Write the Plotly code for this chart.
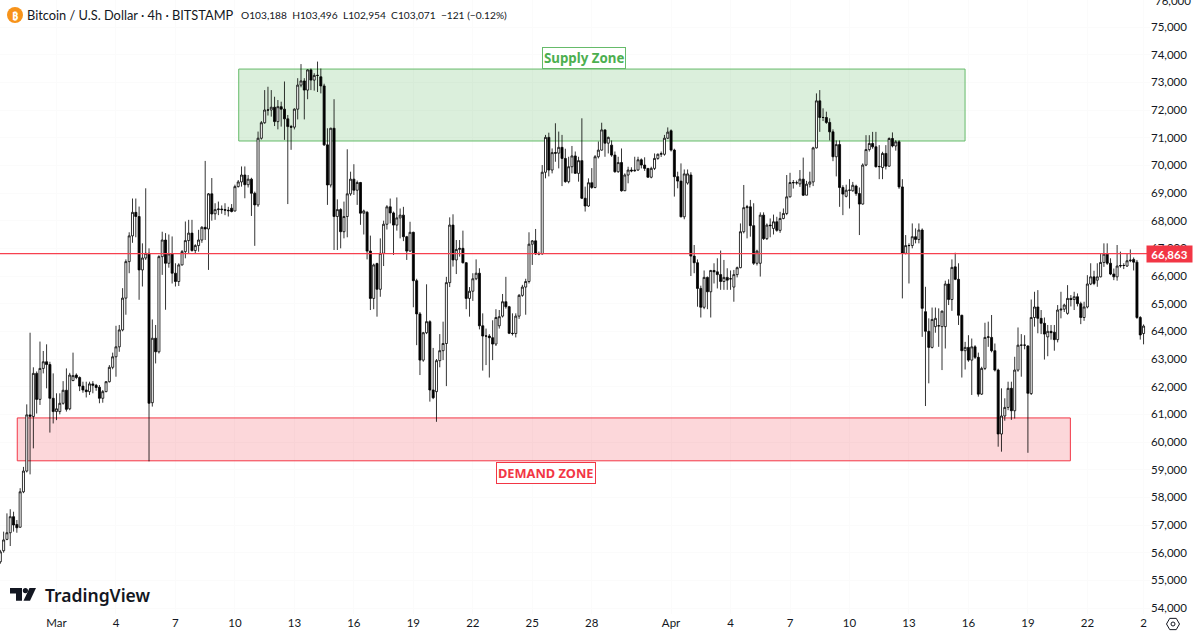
import math

import numpy as np
import pandas as pd
import plotly.graph_objects as go

WIDTH = 1200
HEIGHT = 635
PLOT_RIGHT = 1150
PLOT_BOTTOM = 614
FONT = 'Lato'
LABEL_FONT = 'Noto Sans'
TEXT_COLOR = '#131722'

# 4h candles, in thousands of USD, ten per row
opens = [
    55.67, 56.07, 56.48, 56.72, 57.3, 57.02, 56.92, 58.2, 58.95, 60.98,
    60.92, 62.48, 61.54, 62.66, 62.9, 62.8, 61.58, 61.1, 61.1, 61.4,
    61.87, 61.2, 62.22, 62.42, 62.33, 62.02, 61.88, 61.82, 62.1, 62.05,
    61.98, 61.58, 61.82, 62.18, 62.7, 63.08, 63.44, 64.05, 65.2, 66.52,
    67.45, 68.3, 68.15, 66.22, 66.65, 66.82, 61.42, 63.75, 63.26, 66.7,
    67.3, 66.46, 66.8, 66.1, 65.8, 66.4, 66.88, 67.28, 67.55, 66.92,
    67.1, 67.3, 67.76, 67.7, 68.97, 68.25, 68.4, 68.42, 68.4, 68.38,
    68.45, 68.35, 69.23, 69.4, 69.65, 69.3, 69.5, 68.99, 68.57, 70.98,
    71.54, 72.0, 72.0, 72.1, 71.58, 72.12, 72.03, 71.68, 71.4, 71.38,
    72.03, 72.9, 73.05, 72.72, 73.45, 73.08, 73.25, 73.2, 72.87, 70.74,
    69.29, 71.34, 68.15, 68.4, 67.6, 68.15, 68.97, 69.5, 69.1, 69.38,
    68.27, 68.3, 66.9, 65.19, 66.45, 65.52, 66.82, 67.87, 68.5, 68.28,
    67.84, 68.1, 68.2, 67.42, 66.9, 67.58, 65.83, 64.63, 62.96, 63.95,
    64.35, 61.88, 61.82, 62.94, 63.3, 63.56, 65.76, 67.84, 66.58, 66.96,
    67.0, 66.48, 65.19, 65.45, 65.9, 66.1, 64.2, 63.83, 63.83, 63.77,
    63.54, 64.2, 64.55, 65.07, 64.89, 63.93, 63.92, 64.55, 65.3, 65.6,
    65.8, 67.15, 67.27, 66.8, 66.8, 69.75, 71.01, 69.83, 70.46, 70.44,
    70.65, 70.25, 69.41, 69.95, 70.34, 69.71, 70.17, 68.81, 68.53, 69.37,
    69.2, 70.31, 70.55, 71.28, 70.8, 70.73, 70.37, 69.77, 70.1, 69.08,
    69.65, 69.83, 69.8, 69.83, 70.2, 70.01, 69.89, 69.57, 69.89, 70.25,
    70.4, 70.4, 70.98, 71.25, 70.55, 69.59, 69.43, 68.14, 69.36, 69.65,
    66.72, 66.48, 65.55, 64.87, 65.95, 65.43, 66.2, 66.15, 66.05, 65.8,
    65.95, 65.9, 65.6, 66.05, 66.3, 67.6, 68.47, 68.5, 67.82, 66.46,
    66.46, 68.2, 67.35, 67.84, 67.72, 67.96, 67.65, 68.08, 68.26, 68.86,
    69.38, 69.37, 69.33, 69.5, 68.92, 69.32, 69.4, 70.63, 72.33, 71.73,
    71.73, 71.55, 71.21, 70.31, 70.75, 69.2, 68.88, 69.1, 69.08, 69.25,
    68.98, 68.6, 70.01, 70.57, 70.79, 70.67, 69.95, 69.92, 70.43, 69.97,
    70.97, 70.7, 70.85, 69.22, 66.82, 67.1, 67.1, 67.42, 67.32, 67.66,
    64.71, 64.0, 63.42, 64.17, 64.2, 64.17, 64.17, 65.71, 65.15, 66.33,
    65.88, 64.58, 63.3, 63.42, 62.96, 63.44, 63.06, 61.73, 62.66, 63.78,
    63.78, 63.3, 62.6, 60.29, 60.94, 61.25, 61.94, 61.13, 62.6, 63.5,
    63.5, 63.47, 61.75, 64.5, 64.88, 64.47, 64.29, 63.8, 64.0, 63.97,
    63.7, 64.77, 64.8, 64.65, 65.19, 65.15, 65.25, 65.0, 64.5, 64.88,
    65.71, 65.97, 65.85, 65.97, 66.49, 66.79, 66.46, 66.07, 65.97, 66.36,
    66.38, 66.36, 66.55, 66.6, 66.5, 64.5, 63.92,
]
highs = [
    56.1, 56.76, 57.42, 57.57, 57.48, 57.18, 58.33, 59.1, 61.36, 63.95,
    62.7, 62.55, 63.63, 63.29, 63.53, 62.9, 62.48, 61.76, 61.76, 62.2,
    62.66, 62.5, 63.23, 62.48, 62.37, 62.18, 62.18, 62.18, 62.2, 62.1,
    62.06, 61.88, 62.2, 62.78, 63.23, 64.2, 64.23, 65.56, 66.6, 67.58,
    68.8, 68.8, 68.51, 67.18, 69.17, 67.0, 64.43, 64.23, 66.75, 67.6,
    67.55, 67.5, 67.43, 66.46, 66.46, 66.94, 67.97, 68.03, 68.03, 67.15,
    67.67, 67.8, 70.16, 69.0, 69.54, 68.63, 68.69, 68.55, 68.63, 68.5,
    68.6, 69.3, 69.47, 69.96, 69.96, 69.65, 69.55, 69.05, 71.22, 71.6,
    72.72, 72.84, 72.72, 72.48, 72.36, 72.3, 73.03, 71.82, 71.46, 72.06,
    73.15, 73.66, 73.15, 73.47, 73.5, 73.33, 73.75, 73.5, 72.95, 71.34,
    71.36, 72.39, 68.77, 68.45, 68.69, 70.58, 69.77, 70.04, 69.45, 69.4,
    68.4, 68.35, 67.46, 66.45, 66.48, 67.36, 68.0, 68.56, 68.8, 68.33,
    68.84, 68.44, 68.5, 67.45, 67.96, 67.6, 65.9, 64.7, 63.98, 65.7,
    64.4, 63.4, 63.0, 63.9, 64.35, 65.97, 68.12, 68.23, 67.3, 67.3,
    67.64, 66.5, 65.6, 66.1, 66.6, 66.28, 64.65, 64.1, 63.9, 64.4,
    64.8, 64.77, 65.35, 65.97, 64.92, 64.65, 64.65, 65.35, 65.68, 65.9,
    67.58, 67.3, 67.7, 66.88, 70.01, 71.1, 71.18, 70.61, 71.52, 71.22,
    71.1, 70.6, 70.31, 70.7, 70.5, 70.31, 71.7, 69.23, 69.53, 69.9,
    70.37, 70.86, 71.54, 71.3, 71.04, 70.9, 70.5, 70.31, 70.61, 69.71,
    69.95, 69.93, 70.31, 70.31, 70.25, 70.29, 69.9, 69.95, 70.43, 70.43,
    70.5, 71.1, 71.37, 71.3, 70.6, 69.77, 70.07, 69.85, 69.85, 69.75,
    67.12, 66.6, 65.65, 66.2, 65.98, 66.22, 66.46, 66.64, 66.92, 66.58,
    66.28, 66.2, 66.22, 66.34, 67.9, 69.29, 68.57, 68.75, 68.63, 66.95,
    68.3, 68.3, 67.9, 68.08, 68.22, 68.14, 68.32, 68.44, 69.65, 69.73,
    69.47, 69.45, 69.83, 70.28, 69.44, 69.77, 70.67, 72.6, 72.72, 72.06,
    71.94, 71.7, 71.3, 70.9, 70.9, 69.28, 69.3, 69.5, 69.4, 69.3,
    69.2, 70.07, 71.09, 71.09, 71.21, 71.21, 70.73, 70.49, 70.73, 71.01,
    71.19, 70.91, 70.91, 69.5, 67.48, 67.18, 67.9, 67.72, 67.9, 67.72,
    65.61, 64.47, 64.86, 64.86, 64.83, 64.75, 65.83, 65.88, 66.6, 66.84,
    66.46, 64.6, 63.62, 63.86, 63.74, 63.5, 63.23, 62.72, 64.31, 64.35,
    64.59, 63.56, 62.65, 61.94, 61.58, 62.18, 62.18, 63.08, 64.14, 63.9,
    63.86, 63.5, 65.15, 65.43, 65.49, 64.77, 64.5, 64.23, 64.23, 64.23,
    64.95, 65.43, 65.0, 65.67, 65.31, 65.43, 65.37, 65.07, 65.07, 66.03,
    66.46, 66.19, 66.46, 66.82, 67.18, 67.18, 66.64, 66.27, 67.12, 66.88,
    66.46, 66.82, 66.96, 66.67, 66.58, 64.55, 64.25,
]
lows = [
    55.6, 56.0, 56.45, 56.24, 56.76, 56.72, 56.9, 58.15, 58.9, 58.83,
    59.77, 61.03, 61.34, 62.48, 61.94, 60.34, 60.67, 60.79, 61.0, 61.35,
    61.1, 61.15, 62.2, 62.27, 61.84, 61.78, 61.61, 61.7, 61.76, 61.85,
    61.4, 61.42, 61.8, 62.15, 62.63, 62.36, 63.26, 64.0, 64.6, 66.1,
    67.2, 67.4, 65.14, 65.62, 66.58, 59.3, 61.28, 62.84, 63.2, 66.04,
    64.78, 66.3, 65.73, 65.62, 65.64, 66.38, 66.64, 66.82, 66.88, 66.8,
    66.88, 67.2, 67.3, 66.22, 68.0, 68.03, 68.2, 68.25, 68.2, 68.15,
    68.3, 68.33, 69.2, 69.23, 68.81, 69.2, 68.17, 67.09, 68.5, 70.93,
    71.5, 71.8, 71.76, 71.42, 71.3, 71.4, 70.92, 68.6, 70.56, 71.3,
    71.66, 72.82, 71.66, 72.39, 72.72, 72.7, 72.65, 72.6, 70.7, 68.57,
    69.2, 66.94, 66.94, 67.0, 67.36, 67.4, 68.9, 68.93, 68.57, 67.85,
    67.5, 66.6, 64.77, 64.8, 64.53, 65.25, 66.36, 67.68, 67.9, 66.76,
    67.64, 67.36, 67.26, 66.58, 66.88, 64.87, 63.5, 62.42, 62.9, 63.9,
    61.46, 61.55, 60.73, 62.7, 62.96, 62.02, 65.6, 66.34, 66.07, 66.7,
    66.45, 64.8, 64.53, 65.1, 65.85, 64.07, 62.58, 62.78, 62.33, 62.96,
    63.47, 64.1, 64.5, 64.82, 63.9, 63.85, 63.78, 64.45, 65.25, 64.6,
    65.73, 66.4, 66.76, 66.75, 66.77, 69.53, 69.6, 69.71, 70.13, 69.89,
    69.25, 69.37, 69.35, 69.71, 69.69, 69.41, 68.78, 68.33, 68.5, 69.15,
    69.17, 70.25, 70.53, 70.31, 70.43, 70.31, 69.73, 69.73, 69.05, 69.1,
    69.35, 69.75, 69.77, 69.8, 69.89, 69.8, 69.55, 69.53, 69.83, 70.2,
    70.3, 70.35, 70.95, 70.5, 68.87, 69.17, 68.12, 68.05, 69.3, 66.0,
    66.1, 64.89, 64.5, 64.8, 64.8, 64.5, 65.73, 65.55, 65.5, 65.5,
    65.5, 65.5, 65.07, 65.95, 66.28, 67.54, 67.36, 67.42, 66.4, 66.38,
    65.98, 67.3, 67.3, 67.4, 67.5, 67.6, 67.56, 68.05, 68.2, 68.84,
    69.16, 69.3, 69.22, 68.89, 68.92, 69.2, 69.25, 70.61, 71.21, 71.6,
    71.5, 70.9, 70.15, 69.6, 68.5, 68.2, 68.84, 68.44, 69.05, 68.9,
    67.48, 68.58, 69.97, 70.5, 70.6, 69.92, 69.5, 69.5, 69.85, 69.95,
    70.65, 70.53, 69.15, 65.19, 66.78, 65.73, 67.0, 67.18, 67.18, 63.8,
    61.3, 62.12, 63.38, 63.95, 63.44, 62.6, 63.38, 64.95, 64.74, 65.85,
    64.23, 62.33, 62.62, 62.9, 61.7, 63.0, 61.64, 61.7, 62.6, 63.44,
    63.24, 62.55, 59.83, 59.65, 60.77, 61.15, 60.8, 60.85, 62.54, 62.36,
    63.35, 59.61, 61.7, 64.17, 63.93, 63.9, 62.98, 63.1, 63.7, 63.3,
    63.6, 64.47, 64.7, 64.6, 64.9, 64.77, 64.9, 64.26, 64.38, 64.83,
    65.67, 65.67, 65.61, 65.95, 66.33, 66.4, 66.03, 65.85, 65.83, 66.3,
    66.25, 66.33, 66.5, 66.2, 64.45, 63.7, 63.53,
]
closes = [
    56.03, 56.46, 56.72, 57.3, 57.0, 56.9, 58.2, 58.95, 60.98, 60.93,
    62.48, 61.54, 62.66, 62.9, 62.8, 61.58, 61.1, 61.2, 61.4, 61.87,
    61.18, 62.42, 62.4, 62.33, 62.02, 61.88, 61.82, 62.1, 62.05, 61.97,
    61.58, 61.82, 62.18, 62.7, 63.08, 63.44, 64.05, 65.2, 66.52, 67.45,
    68.3, 68.15, 66.22, 66.65, 66.82, 61.4, 63.75, 63.26, 66.7, 67.3,
    66.46, 66.8, 66.1, 65.8, 66.4, 66.88, 67.28, 67.55, 66.92, 67.1,
    67.3, 67.76, 67.7, 68.97, 68.24, 68.4, 68.42, 68.4, 68.38, 68.36,
    68.33, 69.23, 69.4, 69.65, 69.3, 69.5, 68.99, 68.57, 70.98, 71.54,
    72.0, 72.0, 72.1, 71.58, 72.12, 72.03, 71.68, 71.4, 71.38, 72.03,
    72.9, 73.05, 72.72, 73.45, 73.08, 73.25, 73.25, 72.87, 70.74, 69.29,
    71.34, 68.15, 68.4, 67.6, 68.15, 68.97, 69.5, 69.1, 69.38, 68.27,
    68.35, 66.9, 65.19, 66.4, 65.52, 66.82, 67.87, 68.5, 68.28, 67.84,
    68.1, 68.2, 67.42, 66.9, 67.58, 65.83, 64.63, 62.96, 63.95, 64.35,
    61.88, 61.6, 62.94, 63.3, 63.56, 65.76, 67.84, 66.58, 66.96, 67.0,
    66.48, 65.19, 65.45, 65.9, 66.1, 64.2, 63.83, 63.83, 63.77, 63.54,
    64.5, 64.53, 65.07, 64.89, 63.93, 63.92, 64.55, 65.3, 65.6, 65.8,
    67.15, 67.27, 66.8, 66.8, 69.75, 71.01, 69.83, 70.46, 70.44, 70.65,
    70.25, 69.41, 69.95, 70.34, 69.71, 70.17, 68.81, 68.53, 69.37, 69.2,
    70.31, 70.55, 71.28, 70.8, 71.01, 70.37, 69.77, 70.1, 69.08, 69.65,
    69.83, 69.8, 69.82, 70.2, 70.01, 69.89, 69.57, 69.89, 70.25, 70.4,
    70.42, 70.98, 71.2, 70.55, 69.59, 69.43, 68.14, 69.69, 69.69, 66.72,
    66.48, 65.55, 64.87, 65.95, 65.43, 66.2, 66.15, 66.05, 65.8, 65.95,
    65.85, 65.9, 66.05, 66.3, 67.6, 68.47, 68.5, 67.82, 66.46, 66.9,
    68.2, 67.35, 67.84, 67.82, 67.96, 67.65, 68.08, 68.26, 68.86, 69.38,
    69.37, 69.37, 69.5, 68.92, 69.32, 69.4, 70.63, 72.33, 71.73, 71.73,
    71.55, 71.21, 70.31, 70.75, 69.2, 68.96, 69.1, 69.1, 69.28, 68.98,
    68.6, 70.01, 70.57, 70.79, 70.67, 69.95, 69.96, 70.43, 69.97, 70.97,
    70.7, 70.85, 69.22, 66.82, 67.1, 67.1, 67.42, 67.32, 67.66, 64.83,
    64.0, 63.42, 64.43, 64.47, 64.2, 64.73, 65.71, 65.15, 66.31, 65.88,
    64.58, 63.3, 63.42, 62.96, 63.44, 63.06, 61.73, 62.66, 63.78, 63.8,
    63.3, 62.6, 60.29, 60.94, 61.25, 61.94, 61.13, 62.6, 63.5, 63.5,
    63.5, 61.76, 64.5, 64.88, 64.47, 64.29, 63.9, 64.0, 63.95, 63.7,
    64.77, 64.8, 64.95, 65.19, 65.15, 65.25, 65.0, 64.5, 64.88, 65.71,
    65.97, 65.73, 65.97, 66.49, 66.79, 66.46, 66.07, 65.97, 66.36, 66.38,
    66.38, 66.55, 66.57, 66.5, 64.5, 63.87, 64.19,
]

bar_times = pd.date_range('2024-02-27 04:00', periods=len(closes), freq='4h')

x_tick_dates = [
    '2024-03-01', '2024-03-04', '2024-03-07', '2024-03-10', '2024-03-13', '2024-03-16',
    '2024-03-19', '2024-03-22', '2024-03-25', '2024-03-28', '2024-04-01', '2024-04-04',
    '2024-04-07', '2024-04-10', '2024-04-13', '2024-04-16', '2024-04-19', '2024-04-22',
    '2024-04-24 20:00',
]
x_tick_labels = ['Mar', '4', '7', '10', '13', '16', '19', '22', '25', '28', 'Apr', '4', '7', '10', '13', '16', '19', '22', '2']
y_ticks = list(range(54000, 76000, 1000))

supply_zone = {'start': '2024-03-10 04:36', 'end': '2024-04-15 19:54', 'low': 70880, 'high': 73480}
demand_zone = {'start': '2024-02-28 00:30', 'end': '2024-04-21 03:24', 'low': 59320, 'high': 60870}
level_price = 66810
last_price_label = '66,863'

title_text = 'Bitcoin / U.S. Dollar · 4h · BITSTAMP'
ohlc_text = 'O103,188  H103,496  L102,954  C103,071  −121 (−0.12%)'


def px_x(x):
    return x / PLOT_RIGHT


def px_y(y):
    return 1 - y / PLOT_BOTTOM


def path_from(points):
    coords = [f'{px_x(x):.5f},{px_y(y):.5f}' for x, y in points]
    return 'M' + ' L'.join(coords) + ' Z'


def paper_shape(path, **kwargs):
    return dict(type='path', xref='paper', yref='paper', path=path, **kwargs)


def text_note(x, y, text, size, color=TEXT_COLOR, anchor='left', family=FONT, **kwargs):
    font = dict(family=family, size=size, color=color, weight=kwargs.pop('weight', 400))
    return dict(
        xref='paper', yref='paper', x=px_x(x), y=px_y(y), text=text, showarrow=False,
        xanchor=anchor, yanchor='middle', font=font, **kwargs,
    )


to_usd = 1000
fig = go.Figure(go.Candlestick(
    x=bar_times,
    open=np.array(opens) * to_usd,
    high=np.array(highs) * to_usd,
    low=np.array(lows) * to_usd,
    close=np.array(closes) * to_usd,
    increasing=dict(fillcolor='#ffffff', line=dict(color='#000000', width=0.8)),
    decreasing=dict(fillcolor='#000000', line=dict(color='#000000', width=0.8)),
    whiskerwidth=0,
    hoverinfo='skip',
    showlegend=False,
))

shapes = [
    dict(type='rect', layer='between', x0=supply_zone['start'], x1=supply_zone['end'],
         y0=supply_zone['low'], y1=supply_zone['high'],
         fillcolor='rgba(76,175,80,0.2)', line=dict(color='#66bb6a', width=1)),
    dict(type='rect', layer='between', x0=demand_zone['start'], x1=demand_zone['end'],
         y0=demand_zone['low'], y1=demand_zone['high'],
         fillcolor='rgba(242,54,69,0.2)', line=dict(color='#f23645', width=1)),
    dict(type='line', layer='above', xref='paper', x0=0, x1=1, y0=level_price, y1=level_price,
         line=dict(color='#f7404f', width=1.2)),
    # symbol circle in the header
    dict(type='circle', xref='paper', yref='paper', x0=px_x(7), x1=px_x(23), y0=px_y(23), y1=px_y(7),
         fillcolor='#f7931a', line=dict(width=0)),
    # TradingView mark
    paper_shape(path_from([(10, 588), (22, 588), (22, 600.7), (16, 600.7), (16, 593.5), (10, 593.5)]),
                fillcolor='#131722', line=dict(width=0)),
    dict(type='circle', xref='paper', yref='paper', x0=px_x(22.8), x1=px_x(28), y0=px_y(593.2), y1=px_y(588),
         fillcolor='#131722', line=dict(width=0)),
    paper_shape(path_from([(29.5, 588), (36, 588), (30, 600.7), (23.5, 600.7)]),
                fillcolor='#131722', line=dict(width=0)),
    # settings hexagon next to the time axis
    paper_shape(path_from([(1173 + 6.5 * math.cos(a * math.pi / 3), 624 + 6.5 * math.sin(a * math.pi / 3)) for a in range(6)]),
                line=dict(color=TEXT_COLOR, width=1)),
    dict(type='circle', xref='paper', yref='paper', x0=px_x(1171), x1=px_x(1175), y0=px_y(626), y1=px_y(622),
         line=dict(color=TEXT_COLOR, width=1)),
]

annotations = [
    text_note(15, 15, '₿', 11, color='#ffffff', anchor='center', weight=700, family=LABEL_FONT),
    text_note(25, 15, title_text, 12.8),
    text_note(239, 15, ohlc_text, 10.2),
    text_note(584, 58, 'Supply Zone', 13.3, color='#4caf50', anchor='center', weight=700, family=LABEL_FONT,
              bgcolor='#ffffff', bordercolor='#66bb6a', borderwidth=1, borderpad=1),
    text_note(546, 473, 'DEMAND ZONE', 12.8, color='#f23645', anchor='center', weight=700, family=LABEL_FONT,
              bgcolor='#ffffff', bordercolor='#f23645', borderwidth=1, borderpad=1),
    text_note(43, 594.5, 'TradingView', 17.5, weight=600, family=LABEL_FONT),
    text_note(1153, 0, '76,000', 11.5),
    text_note(1146, 253.5, last_price_label, 11.5, color='#ffffff', weight=700,
              bgcolor='#f23645', width=43, height=14, align='center'),
]

fig.update_layout(
    width=WIDTH,
    height=HEIGHT,
    margin=dict(l=0, r=WIDTH - PLOT_RIGHT, t=0, b=HEIGHT - PLOT_BOTTOM),
    paper_bgcolor='#ffffff',
    plot_bgcolor='#ffffff',
    font=dict(family=FONT, color=TEXT_COLOR, size=11.5),
    boxgap=0.12,
    shapes=shapes,
    annotations=annotations,
    xaxis=dict(
        range=['2024-02-27 03:36', '2024-04-25 03:48'],
        rangeslider=dict(visible=False),
        tickmode='array',
        tickvals=x_tick_dates,
        ticktext=x_tick_labels,
        tickangle=0,
        ticklen=0,
        gridcolor='#fbfbfb',
        showline=False,
        zeroline=False,
    ),
    yaxis=dict(
        side='right',
        range=[53783, 75976],
        tickmode='array',
        tickvals=y_ticks,
        ticktext=[f'{v:,}' for v in y_ticks],
        ticklen=0,
        gridcolor='#fbfbfb',
        showline=False,
        zeroline=False,
    ),
)

fig.write_html('out.html', config={'displayModeBar': False}, post_script='document.body.style.margin = "0";')
